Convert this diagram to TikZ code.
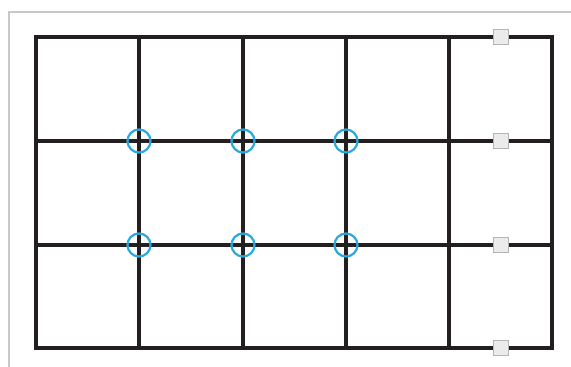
\documentclass[tikz,border=0pt]{standalone}
\definecolor{gridc}{HTML}{231F20}
\definecolor{ringc}{HTML}{29A8E0}
\definecolor{framec}{HTML}{C8C8C8}
\definecolor{handlefill}{HTML}{EBEBEB}
\definecolor{handledraw}{HTML}{B4B4B4}
\tikzset{
  gridline/.style={draw=gridc, line width=4pt, line cap=rect, line join=miter},
  ring/.style={circle, draw=ringc, line width=2.2pt, minimum size=23pt, inner sep=0pt},
  handle/.style={rectangle, draw=handledraw, fill=handlefill, line width=1pt, minimum size=15pt, inner sep=0pt},
  frameline/.style={draw=framec, line width=1.5pt}
}
\begin{document}
\begin{tikzpicture}[x=1pt,y=-1pt]
\useasboundingbox (0,0) rectangle (571,367);
\fill[white] (0,0) rectangle (571,367);
% outer frame
\draw[frameline] (9,367) -- (9,12) -- (571,12);
% grid
\foreach \x in {36,139,243,346,449,552}
  \draw[gridline] (\x,37) -- (\x,348);
\foreach \y in {37,141,245,348}
  \draw[gridline] (36,\y) -- (552,\y);
% rings
\foreach \i/\x in {1/139,2/243,3/346}{
  \node[ring] (r1\i) at (\x,141) {};
  \node[ring] (r2\i) at (\x,245) {};
}
% handles
\foreach \i/\y in {1/37,2/141,3/245,4/348}
  \node[handle] (h\i) at (501,\y) {};
\end{tikzpicture}
\end{document}
